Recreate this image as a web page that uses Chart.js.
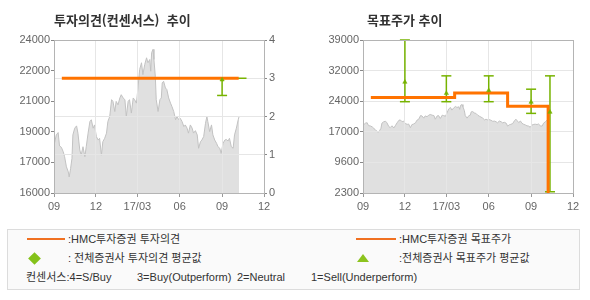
<!DOCTYPE html>
<html lang="ko"><head><meta charset="utf-8">
<script src="https://cdn.jsdelivr.net/npm/chart.js@4.4.1/dist/chart.umd.min.js"></script>
<style>
html,body{margin:0;padding:0;background:#fff;}
#wrap{position:relative;width:590px;height:300px;overflow:hidden;background:#fff;}
#c1{position:absolute;left:0;top:0;}
#c2{position:absolute;left:295px;top:0;}
.title{position:absolute;top:11px;font-family:"Noto Sans CJK KR",sans-serif;font-weight:bold;font-size:13px;color:#333;line-height:18px;white-space:pre;}
#legend{position:absolute;left:7px;top:229px;width:573px;height:61px;box-sizing:border-box;border:1px solid #dcdcdc;background:#fafafa;font-family:"Liberation Sans","Noto Sans CJK KR",sans-serif;font-size:11px;color:#333;}
.lt{position:absolute;white-space:pre;line-height:14px;}
.ln{position:absolute;height:2px;background:#f07020;}
.dia{position:absolute;width:9px;height:9px;background:#84c21a;transform:rotate(45deg);}
.tri{position:absolute;width:0;height:0;border-left:6px solid transparent;border-right:6px solid transparent;border-bottom:8px solid #8cc31e;}
</style></head>
<body><div id="wrap">
<canvas id="c1" width="295" height="220"></canvas>
<canvas id="c2" width="295" height="220"></canvas>
<div class="title" style="left:54px">투자의견(컨센서스)  추이</div>
<div class="title" style="left:367px">목표주가 추이</div>
<div id="legend">
  <div class="ln" style="left:19px;top:8px;width:38px"></div>
  <div class="lt" style="left:60px;top:2px">:HMC투자증권 투자의견</div>
  <div class="dia" style="left:22px;top:24px"></div>
  <div class="lt" style="left:60px;top:21px">: 전체증권사 투자의견 평균값</div>
  <div class="ln" style="left:348px;top:8px;width:40px"></div>
  <div class="lt" style="left:391px;top:2px">:HMC투자증권 목표주가</div>
  <div class="tri" style="left:349px;top:24px"></div>
  <div class="lt" style="left:391px;top:21px">:전체증권사 목표주가 평균값</div>
  <div class="lt" style="left:18px;top:40px">컨센서스:4=S/Buy</div>
  <div class="lt" style="left:129px;top:40px">3=Buy(Outperform)</div>
  <div class="lt" style="left:229px;top:40px">2=Neutral</div>
  <div class="lt" style="left:303px;top:40px">1=Sell(Underperform)</div>
</div>
</div>
<script>
// ---- x axis (days since 2016-09-01) ----
const xMin = 0, xMax = 456;
const tickDays = [0, 91, 181, 273, 365, 456];
const tickLabels = ['09', '12', '17/03', '06', '09', '12'];

// ---- axis tick labels ----
const opinionMin = 0, opinionMax = 4;
const opinionTickLabels = ['0', '1', '2', '3', '4'];
const leftPriceMin = 16000, leftPriceMax = 24000;
const leftPriceTickLabels = ['16000', '17000', '19000', '21000', '22000', '24000'];
const rightPriceMin = 2300, rightPriceMax = 39000;
const rightPriceTickLabels = ['2300', '9600', '17000', '24000', '32000', '39000'];

// ---- stock price ----
const priceDays = [1,5,9,12,16,20,23,27,31,33,36,39,41,45,49,52,56,59,63,67,70,74,78,81,85,88,92,96,99,103,106,110,114,117,121,125,128,132,135,139,143,146,150,154,157,161,164,168,172,175,179,182,186,190,193,197,201,204,208,210,212,215,217,220,222,226,230,233,235,238,242,245,249,253,256,260,264,267,271,274,278,282,285,289,292,296,300,303,307,311,314,318,321,325,329,332,334,338,342,345,349,353,356,360,363,367,371,374,378,381,385,389,392,396,400,402];
const priceValues = [18600,19040,19160,18460,18390,18160,17900,17370,17110,16840,17280,17810,19040,19390,19510,19130,18250,17980,18420,17900,18420,19130,19740,19830,19390,19560,18950,18770,18860,17980,18680,18860,19130,19740,20000,20880,20790,20260,20790,20610,20970,21140,20970,20880,20000,20790,20880,20180,20970,20880,20700,21410,22460,22810,22190,22720,23070,22810,22980,22370,23340,23510,22980,22100,20880,20260,20880,20970,21760,21840,21490,21410,20970,20700,20530,20260,19830,20000,19830,19910,19740,19470,19560,19390,19130,19560,19390,19130,19260,19040,18340,18680,18770,18950,19650,20000,19740,19210,19560,19040,18770,18600,18420,18340,18070,18600,18770,18800,18720,18860,18420,18340,19040,19390,19830,20000];

// ---- investment opinion (HMC) & consensus ----
const opinionDays = [17, 401];
const opinionValues = [3, 3];
const consLineDays = [365, 418];
const consLineValues = [3, 3];
const opinionBarDays = [365];
const opinionBarLow = [2.55];
const opinionBarHigh = [3.0];
const opinionBarMean = [2.96];

// ---- target price (HMC) & consensus ----
const targetDays = [17, 199, 314, 402];
const targetValues = [25200, 26300, 23100, 2300];
const targetBarDays = [91, 181, 273, 365, 406];
const targetBarLow = [24200, 24200, 24200, 21400, 2600];
const targetBarHigh = [39000, 30400, 30400, 27200, 30400];
const targetBarMean = [28900, 26200, 26900, 24100, 21700];

const ORANGE = '#ff7300', GREEN = '#77b300', GRID = '#e6e6e6', FRAME = '#b4b4b4';
const FONT = {family: 'Liberation Sans', size: 11};
const TICKCOLOR = '#666';

function pts(xs, ys) { return xs.map((x, i) => ({x, y: ys[i]})); }
function bars(xs, lo, hi) {
  const d = [];
  xs.forEach((x, i) => { d.push({x, y: lo[i]}, {x, y: hi[i]}, {x, y: null}); });
  return d;
}
function evenTicks(min, max, n) {
  return (axis) => { axis.ticks = Array.from({length: n}, (_, i) => ({value: min + i * (max - min) / (n - 1)})); };
}
function align(p) { return Math.round(p - 0.5) + 0.5; }

const gridOver = {
  id: 'gridOver',
  afterDatasetDraw(chart, args, opts) {
    if (chart.data.datasets[args.index].label !== 'price') return;
    const {ctx, chartArea: a} = chart;
    ctx.save();
    ctx.strokeStyle = GRID; ctx.lineWidth = 1;
    ctx.beginPath();
    const xs = chart.scales.x;
    xs.ticks.forEach(t => { const p = align(xs.getPixelForValue(t.value)); ctx.moveTo(p, a.top); ctx.lineTo(p, a.bottom); });
    const ys = chart.scales[opts.yAxis];
    ys.ticks.forEach(t => { const p = align(ys.getPixelForValue(t.value)); ctx.moveTo(a.left, p); ctx.lineTo(a.right, p); });
    ctx.stroke();
    ctx.restore();
  },
  afterDraw(chart) {
    const {ctx, chartArea: a} = chart;
    ctx.save();
    ctx.strokeStyle = FRAME; ctx.lineWidth = 1;
    ctx.strokeRect(align(a.left), align(a.top), Math.round(a.right - a.left), Math.round(a.bottom - a.top));
    ctx.restore();
  }
};

const xAxis = {
  type: 'linear', min: xMin, max: xMax,
  afterBuildTicks: (axis) => { axis.ticks = tickDays.map(v => ({value: v})); },
  afterFit: (s) => { s.height = 27; },
  ticks: {autoSkip: false, maxRotation: 0, padding: 3, font: FONT, color: TICKCOLOR,
          callback: (v, i) => tickLabels[i]},
  grid: {color: GRID, tickLength: 4, tickColor: '#999'},
  border: {color: FRAME}
};

const priceStyle = {
  label: 'price', type: 'line', data: pts(priceDays, priceValues),
  borderColor: '#c2c2c2', borderWidth: 1, backgroundColor: '#e0e0e0',
  fill: 'start', pointRadius: 0, tension: 0, order: 10
};

// ---------- left chart ----------
new Chart(document.getElementById('c1'), {
  type: 'line',
  data: {datasets: [
    Object.assign({}, priceStyle, {yAxisID: 'y'}),
    {label: 'cons', data: pts(consLineDays, consLineValues), yAxisID: 'y1', borderColor: GREEN, borderWidth: 1.5, pointRadius: 0, order: 6},
    {label: 'bar', data: bars(opinionBarDays, opinionBarLow, opinionBarHigh), yAxisID: 'y1', borderColor: GREEN, borderWidth: 1.5,
     pointStyle: 'line', pointRadius: 5, pointBorderWidth: 1.5, pointBorderColor: GREEN, spanGaps: false, clip: 8, order: 5},
    {label: 'opinion', data: pts(opinionDays, opinionValues), yAxisID: 'y1', borderColor: ORANGE, borderWidth: 3, pointRadius: 0, order: 2},
    {label: 'mean', data: pts(opinionBarDays, opinionBarMean), yAxisID: 'y1', showLine: false, pointStyle: 'triangle', pointRadius: 2.5,
     backgroundColor: GREEN, borderColor: GREEN, borderWidth: 0.5, order: 0}
  ]},
  options: {
    responsive: false, animation: false, events: [],
    layout: {padding: {top: 40, left: 0, right: 0, bottom: 0}},
    plugins: {legend: {display: false}, tooltip: {enabled: false}, gridOver: {yAxis: 'y1'}},
    scales: {
      x: xAxis,
      y: {type: 'linear', position: 'left', min: leftPriceMin, max: leftPriceMax,
          afterBuildTicks: evenTicks(leftPriceMin, leftPriceMax, leftPriceTickLabels.length),
          afterFit: (s) => { s.width = 54; },
          ticks: {autoSkip: false, padding: 1, font: FONT, color: TICKCOLOR, callback: (v, i) => leftPriceTickLabels[i]},
          grid: {drawOnChartArea: false, tickLength: 3, tickColor: '#888'}, border: {color: FRAME}},
      y1: {type: 'linear', position: 'right', min: opinionMin, max: opinionMax,
          afterBuildTicks: evenTicks(opinionMin, opinionMax, opinionTickLabels.length),
          afterFit: (s) => { s.width = 31; },
          ticks: {autoSkip: false, padding: 2, font: FONT, color: TICKCOLOR, callback: (v, i) => opinionTickLabels[i]},
          grid: {color: GRID, tickLength: 3, tickColor: '#888'}, border: {color: FRAME}}
    }
  },
  plugins: [gridOver]
});

// ---------- right chart ----------
new Chart(document.getElementById('c2'), {
  type: 'line',
  data: {datasets: [
    Object.assign({}, priceStyle, {yAxisID: 'y'}),
    {label: 'bar', data: bars(targetBarDays, targetBarLow, targetBarHigh), yAxisID: 'y', borderColor: GREEN, borderWidth: 1.5,
     pointStyle: 'line', pointRadius: 5, pointBorderWidth: 1.5, pointBorderColor: GREEN, spanGaps: false, clip: 8, order: 5},
    {label: 'target', data: pts(targetDays, targetValues), yAxisID: 'y', borderColor: ORANGE, borderWidth: 3, pointRadius: 0,
     stepped: 'before', order: 2},
    {label: 'mean', data: pts(targetBarDays, targetBarMean), yAxisID: 'y', showLine: false, pointStyle: 'triangle', pointRadius: 2.5,
     backgroundColor: GREEN, borderColor: GREEN, borderWidth: 0.5, order: 0}
  ]},
  options: {
    responsive: false, animation: false, events: [],
    layout: {padding: {top: 40, left: 0, right: 17, bottom: 0}},
    plugins: {legend: {display: false}, tooltip: {enabled: false}, gridOver: {yAxis: 'y'}},
    scales: {
      x: xAxis,
      y: {type: 'linear', position: 'left', min: rightPriceMin, max: rightPriceMax,
          afterBuildTicks: evenTicks(rightPriceMin, rightPriceMax, rightPriceTickLabels.length),
          afterFit: (s) => { s.width = 68; },
          ticks: {autoSkip: false, padding: 1, font: FONT, color: TICKCOLOR, callback: (v, i) => rightPriceTickLabels[i]},
          grid: {color: GRID, tickLength: 3, tickColor: '#888'}, border: {color: FRAME}}
    }
  },
  plugins: [gridOver]
});
</script>
</body></html>
